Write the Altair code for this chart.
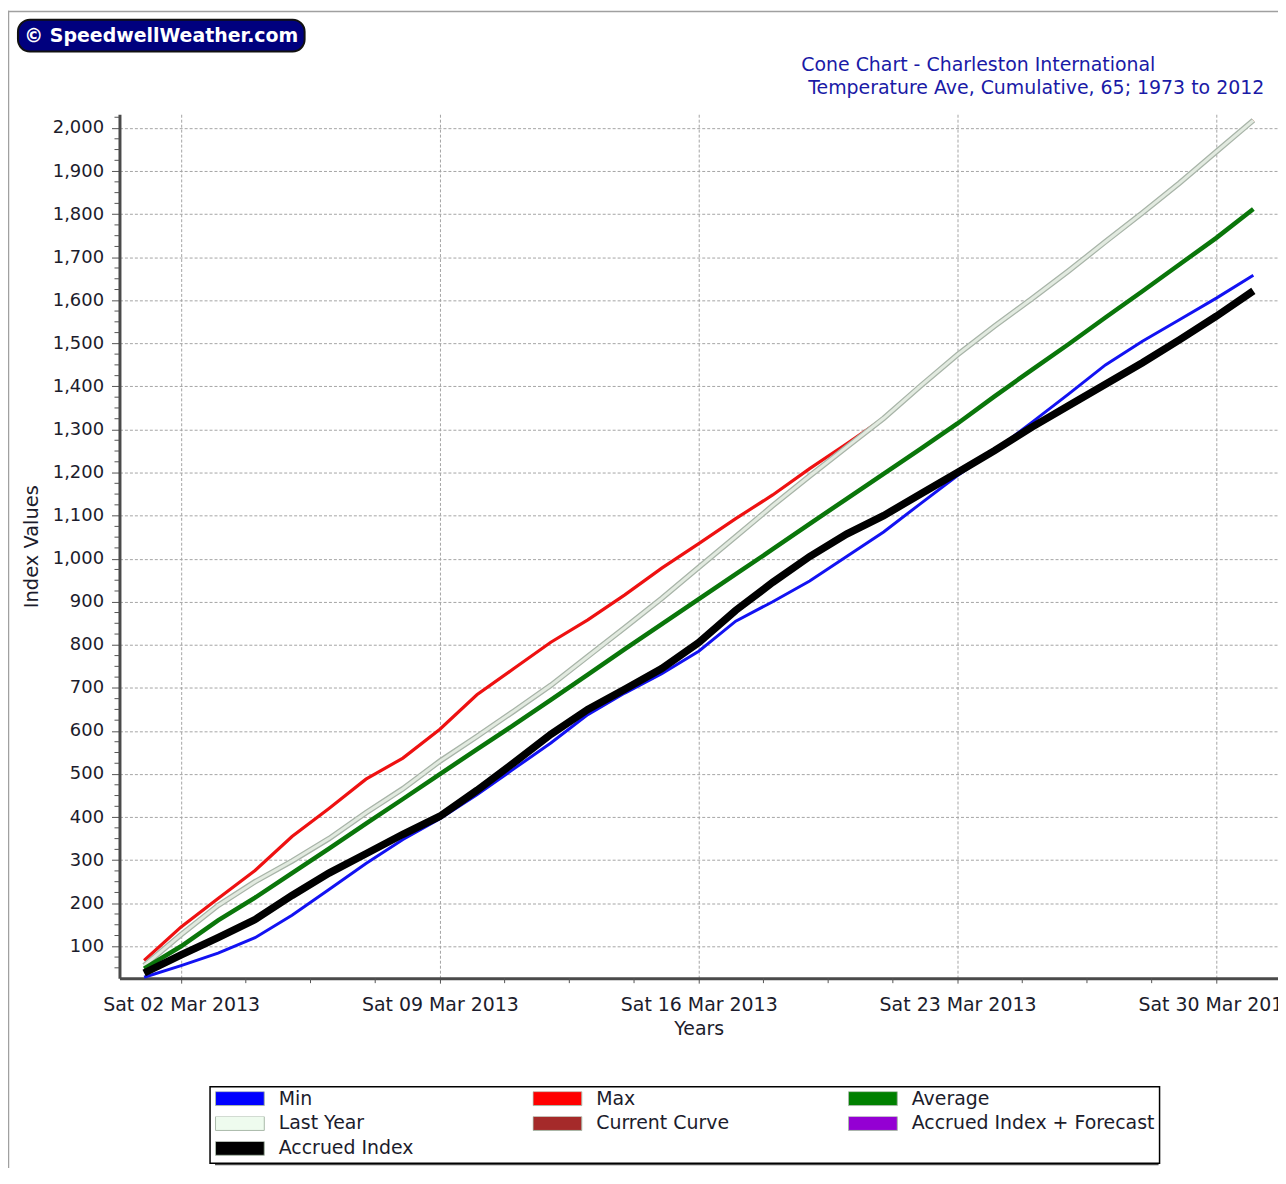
import altair as alt
import pandas as pd

# ---------------- data ----------------
dates = [f"2013-03-{d:02d}" for d in range(1, 32)]

min_vals = [28, 55, 84, 120, 172, 232, 292, 348, 396, 452, 512, 572, 638, 688, 733, 785,
            855, 900, 948, 1005, 1062, 1128, 1193, 1251, 1316, 1382, 1450, 1505, 1555, 1605, 1658]
max_vals = [67, 145, 211, 276, 355, 420, 488, 537, 604, 684, 745, 806, 858, 916, 978, 1035,
            1093, 1148, 1209, 1267, 1326, 1401, 1474, 1540, 1603, 1668, 1736, 1803, 1872, 1945, 2018]
avg_vals = [48, 100, 160, 213, 270, 327, 385, 442, 500, 557, 614, 672, 731, 790, 848, 906,
            964, 1022, 1081, 1139, 1197, 1255, 1314, 1377, 1438, 1498, 1560, 1621, 1683, 1745, 1812]
last_year_vals = [55, 127, 195, 250, 298, 350, 410, 466, 530, 587, 646, 706, 773, 840, 908, 980,
                  1051, 1123, 1192, 1259, 1326, 1401, 1474, 1540, 1603, 1668, 1736, 1803, 1872, 1945, 2018]
accrued_vals = [38, 80, 120, 162, 218, 270, 315, 360, 402, 462, 526, 592, 650, 697, 745, 805,
                880, 945, 1005, 1057, 1100, 1150, 1200, 1251, 1305, 1355, 1405, 1455, 1508, 1563, 1622]

legend_names = ["Min", "Max", "Average", "Last Year", "Current Curve",
                "Accrued Index + Forecast", "Accrued Index"]
legend_fills = ["#0000ff", "#ff0000", "#008000", "#eefbee", "#a52a2a", "#9400d3", "#000000"]

weekly_days = [2, 9, 16, 23, 30]
minor_x_ticks = ["2013-03-03T18:00:00Z", "2013-03-05T12:00:00Z", "2013-03-07T06:00:00Z",
                 "2013-03-10T18:00:00Z", "2013-03-12T12:00:00Z", "2013-03-14T06:00:00Z",
                 "2013-03-17T18:00:00Z", "2013-03-19T12:00:00Z", "2013-03-21T06:00:00Z",
                 "2013-03-24T18:00:00Z", "2013-03-26T12:00:00Z", "2013-03-28T06:00:00Z"]
y_major = list(range(100, 2001, 100))
y_minor = [v for v in range(50, 2026, 25) if v % 100]

title_lines = ["Cone Chart - Charleston International",
               "Temperature Ave, Cumulative, 65; 1973 to 2012"]
logo_text = "\u00a9 SpeedwellWeather.com"

series = [("Min", min_vals), ("Max", max_vals), ("Average", avg_vals),
          ("Last Year", last_year_vals), ("Accrued Index", accrued_vals)]
rows = []
for name, vals in series:
    for d, v in zip(dates, vals):
        rows.append({"date": d, "value": v, "series": name})
df = pd.DataFrame(rows)

FONT = "DejaVu Sans"
TXT = "#1c1c2c"
W, H = 1164, 868

x_scale = alt.Scale(type="utc", domain=[
    alt.DateTime(year=2013, month=2, date=28, hours=8, utc=True),
    alt.DateTime(year=2013, month=3, date=31, hours=16, utc=True)])
y_scale = alt.Scale(domain=[26, 2032], nice=False, zero=False)

x_axis = alt.Axis(
    values=[alt.DateTime(year=2013, month=3, date=d, utc=True) for d in weekly_days],
    format="%a %d %b %Y", labelFontSize=19, labelColor=TXT, labelPadding=12,
    labelFlush=False, labelOverlap=False,
    tickSize=5, tickColor="#555555", grid=True, gridDash=[3, 2], gridColor="#a4a4a4",
    domainColor="#4a4a4a", domainWidth=3, title="Years", titleFontSize=19,
    titleFontWeight="normal", titleColor=TXT, titleBaseline="middle", titleY=51)
y_axis = alt.Axis(
    values=y_major, format=",d", labelFontSize=18, labelColor=TXT, labelPadding=8,
    tickSize=8, tickColor="#555555", grid=True, gridDash=[3, 2], gridColor="#a4a4a4",
    domainColor="#4a4a4a", domainWidth=3, title="Index Values", titleFontSize=19.5,
    titleFontWeight="normal", titleColor=TXT, titleBaseline="middle", titleX=-88, titleY=H / 2)

X = alt.X("date:T", scale=x_scale, axis=x_axis)
Y = alt.Y("value:Q", scale=y_scale, axis=y_axis)

base = alt.Chart(df)


def line(name, color, width):
    return base.transform_filter(alt.datum.series == name).mark_line(
        stroke=color, strokeWidth=width).encode(x=X, y=Y)


layers = [
    line("Max", "#ee1111", 3.2),
    line("Last Year", "#a8b4a8", 5.5),
    line("Last Year", "#e2eae0", 3),
    line("Average", "#0a760a", 4.5),
    line("Min", "#1212f2", 3),
    line("Accrued Index", "#000000", 7.5),
]

# minor ticks
ymin_df = pd.DataFrame({"value": y_minor})
xmin_df = pd.DataFrame({"date": minor_x_ticks})
ytick_layer = alt.Chart(ymin_df).mark_rule(color="#555555", strokeWidth=1).encode(
    y=alt.Y("value:Q", scale=y_scale, axis=y_axis), x=alt.value(-5), x2=alt.value(0))
xtick_layer = alt.Chart(xmin_df).mark_rule(color="#555555", strokeWidth=1).encode(
    x=alt.X("date:T", scale=x_scale, axis=x_axis), y=alt.value(H), y2=alt.value(H + 5))

# legend from an empty layer sharing the legend scale
leg = alt.Legend(title=None, orient="none", legendX=91, legendY=977, columns=3,
                 direction="horizontal", columnPadding=119, rowPadding=6, padding=5,
                 clipHeight=14, symbolType="M-1,-0.286H1V0.286H-1Z", symbolSize=2401,
                 symbolStrokeWidth=1, symbolStrokeColor="#a8b8a8",
                 labelFontSize=19, labelColor=TXT, labelOffset=14, labelLimit=320,
                 fillColor="#ffffff", strokeColor="#000000")
legend_layer = alt.Chart(df).transform_filter("false").mark_point(
    filled=True, opacity=1).encode(
    fill=alt.Fill("series:N", scale=alt.Scale(domain=legend_names, range=legend_fills), legend=leg))

one = pd.DataFrame({"k": [0]})
shadow = alt.Chart(one).mark_rect(fill="#4a4a4a").encode(
    x=alt.value(96), x2=alt.value(1044), y=alt.value(981), y2=alt.value(1056))
frame_left = alt.Chart(one).mark_rule(color="#a0a0a0", strokeWidth=1.5).encode(
    x=alt.value(-111.5), y=alt.value(-104), y2=alt.value(H + 200))
frame_top = alt.Chart(one).mark_rule(color="#a0a0a0", strokeWidth=1.5).encode(
    x=alt.value(-112), x2=alt.value(W), y=alt.value(-103.2))
logo_box = alt.Chart(one).mark_rect(fill="#00007e", stroke="#111111", strokeWidth=2,
                                    cornerRadius=12).encode(
    x=alt.value(-102), x2=alt.value(186), y=alt.value(-95), y2=alt.value(-63))
logo = alt.Chart(pd.DataFrame({"t": [logo_text]})).mark_text(
    font=FONT, fontSize=19, fontWeight="bold", color="#ffffff", align="center",
    baseline="alphabetic").encode(text="t:N", x=alt.value(42), y=alt.value(-73))
title1 = alt.Chart(pd.DataFrame({"t": [title_lines[0]]})).mark_text(
    font=FONT, fontSize=19, color="#1a1aa6", align="left", baseline="alphabetic").encode(
    text="t:N", x=alt.value(685), y=alt.value(-43))
title2 = alt.Chart(pd.DataFrame({"t": [title_lines[1]]})).mark_text(
    font=FONT, fontSize=19, color="#1a1aa6", align="left", baseline="alphabetic").encode(
    text="t:N", x=alt.value(692), y=alt.value(-20))

chart = alt.layer(
    shadow, frame_left, frame_top, logo_box, logo, title1, title2,
    *layers, ytick_layer, xtick_layer, legend_layer
).properties(
    width=W, height=H,
    autosize=alt.AutoSizeParams(type="none"),
    padding={"left": 112, "top": 104, "right": 0, "bottom": 188},
).configure(font=FONT).configure_view(stroke=None).configure_legend(strokeWidth=1.5)

chart.save("out.html", embed_options={"renderer": "svg", "actions": False})
